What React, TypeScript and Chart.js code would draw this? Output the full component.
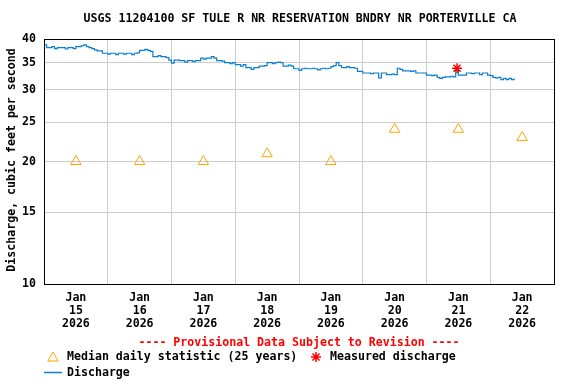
import React, { useEffect, useRef } from 'react';
import { Chart, registerables } from 'chart.js';

Chart.register(...registerables);

const chartTitle = 'USGS 11204100 SF TULE R NR RESERVATION BNDRY NR PORTERVILLE CA';
const yAxisTitle = 'Discharge, cubic feet per second';
const provisionalText = '---- Provisional Data Subject to Revision ----';
const medianLegend = 'Median daily statistic (25 years)';
const measuredLegend = 'Measured discharge';
const dischargeLegend = 'Discharge';

const monthLabel = 'Jan';
const yearLabel = '2026';
const dayLabels = ['15', '16', '17', '18', '19', '20', '21', '22'];
const yTicks = [10, 15, 20, 25, 30, 35, 40];

// median daily statistic, one per day (plotted at noon)
const medianValues = [20, 20, 20, 20.9, 20, 24, 24, 22.9];

// measured discharge (hours after Jan 15 00:00)
const measuredHours = [155.5];
const measuredValues = [33.9];

// hourly discharge starting Jan 15 00:00
const dischargeStartHour = 0;
const dischargeValues = [
  38.7, 38.1, 38.1, 38.3, 37.9, 38.1, 38.1, 38.1, 37.8, 38.1,
  38.1, 37.9, 38.3, 38.3, 38.5, 38.7, 38.3, 38.1, 37.9, 37.6,
  37.4, 37.4, 36.9, 36.9, 36.7, 36.9, 36.9, 36.6, 36.9, 36.9,
  36.7, 36.9, 36.9, 36.6, 36.9, 37.0, 37.5, 37.5, 37.7, 37.5,
  37.3, 36.2, 36.2, 36.4, 36.2, 36.2, 36.0, 35.5, 34.9, 35.5,
  35.5, 35.4, 35.4, 35.1, 35.4, 35.4, 35.2, 35.4, 35.4, 35.9,
  35.7, 35.9, 35.9, 36.2, 35.9, 35.4, 35.4, 35.3, 35.0, 35.0,
  34.8, 35.0, 34.6, 34.6, 34.3, 34.6, 34.0, 34.0, 33.7, 34.0,
  34.0, 34.3, 34.3, 34.4, 35.0, 35.0, 34.8, 35.0, 35.1, 35.0,
  34.3, 34.3, 34.5, 34.3, 33.8, 33.8, 33.5, 33.8, 33.9, 33.8,
  33.8, 33.9, 33.8, 33.6, 33.8, 33.9, 33.8, 33.9, 34.2, 34.4,
  35.0, 34.4, 34.0, 34.0, 34.2, 34.0, 34.0, 33.9, 33.3, 33.3,
  33.0, 33.0, 33.0, 32.9, 33.0, 33.0, 32.1, 33.0, 33.0, 32.7,
  32.7, 32.8, 32.7, 33.9, 33.7, 33.4, 33.4, 33.4, 33.3, 33.4,
  33.0, 33.0, 33.0, 33.0, 32.6, 32.6, 32.5, 32.6, 32.2, 32.0,
  32.2, 32.3, 32.3, 32.4, 32.3, 33.5, 32.6, 32.6, 32.6, 33.0,
  33.0, 32.9, 33.0, 33.0, 32.7, 33.0, 33.0, 32.6, 32.5, 32.2,
  32.1, 32.2, 31.8, 32.0, 31.8, 32.0, 31.8, 32.0,
];

const FONT = "'DejaVu Sans Mono', 'Liberation Mono', monospace";
const FONT_SIZE = 11.6;
const LINE_COLOR = '#0a7fcf';
const MEDIAN_COLOR = '#ffa500';
const MEASURED_COLOR = '#ff0000';
const GRID_COLOR = '#cccccc';

function drawTriangle(ctx: CanvasRenderingContext2D, x: number, y: number, r: number) {
  ctx.beginPath();
  for (let i = 0; i < 3; i++) {
    const a = (i * 2 * Math.PI) / 3;
    const px = x + Math.sin(a) * r;
    const py = y - Math.cos(a) * r;
    if (i === 0) ctx.moveTo(px, py);
    else ctx.lineTo(px, py);
  }
  ctx.closePath();
  ctx.stroke();
}

function drawStar(ctx: CanvasRenderingContext2D, x: number, y: number, r: number) {
  ctx.beginPath();
  for (let i = 0; i < 4; i++) {
    const a = (i * Math.PI) / 4;
    ctx.moveTo(x + Math.cos(a) * r, y + Math.sin(a) * r);
    ctx.lineTo(x - Math.cos(a) * r, y - Math.sin(a) * r);
  }
  ctx.stroke();
}

const decorPlugin = {
  id: 'decor',
  afterDraw(chart: any) {
    const ctx: CanvasRenderingContext2D = chart.ctx;
    const a = chart.chartArea;
    ctx.save();
    // frame
    ctx.strokeStyle = '#000';
    ctx.lineWidth = 1;
    ctx.strokeRect(Math.round(a.left) + 0.5, Math.round(a.top) + 0.5, Math.round(a.right - a.left), Math.round(a.bottom - a.top));

    ctx.font = `bold ${FONT_SIZE}px ${FONT}`;
    ctx.fillStyle = '#000';
    ctx.textBaseline = 'middle';
    ctx.textAlign = 'center';
    ctx.fillText(chartTitle, 300, 19);

    // y title
    ctx.save();
    ctx.translate(12, 160);
    ctx.rotate(-Math.PI / 2);
    ctx.fillText(yAxisTitle, 0, 0);
    ctx.restore();

    // provisional
    ctx.fillStyle = MEASURED_COLOR;
    ctx.fillText(provisionalText, 299, 343);

    // legend
    ctx.textAlign = 'left';
    ctx.fillStyle = '#000';
    ctx.strokeStyle = MEDIAN_COLOR;
    ctx.lineWidth = 1;
    drawTriangle(ctx, 53, 358, 6);
    ctx.fillText(medianLegend, 67, 357);

    ctx.strokeStyle = MEASURED_COLOR;
    ctx.lineWidth = 1.5;
    drawStar(ctx, 316, 357, 5);
    ctx.fillText(measuredLegend, 330, 357);

    ctx.strokeStyle = LINE_COLOR;
    ctx.lineWidth = 1.5;
    ctx.beginPath();
    ctx.moveTo(44, 372.5);
    ctx.lineTo(62, 372.5);
    ctx.stroke();
    ctx.fillText(dischargeLegend, 67, 373);
    ctx.restore();
  },
};

export default function App() {
  const canvasRef = useRef<HTMLCanvasElement | null>(null);

  useEffect(() => {
    document.body.style.margin = '0';
    const canvas = canvasRef.current;
    if (!canvas) return;

    const dischargePoints = dischargeValues.map((v, i) => ({ x: dischargeStartHour + i, y: v }));
    const medianPoints = medianValues.map((v, i) => ({ x: 12 + 24 * i, y: v }));
    const measuredPoints = measuredValues.map((v, i) => ({ x: measuredHours[i], y: v }));
    const xMax = 24 * dayLabels.length;
    const xTickValues: number[] = [];
    for (let h = 0; h <= xMax; h += 12) xTickValues.push(h);

    const chart = new Chart(canvas, {
      type: 'scatter',
      data: {
        datasets: [
          {
            label: dischargeLegend,
            type: 'line',
            data: dischargePoints,
            borderColor: LINE_COLOR,
            borderWidth: 1.2,
            pointRadius: 0,
            stepped: true,
            fill: false,
            order: 3,
          } as any,
          {
            label: medianLegend,
            data: medianPoints,
            pointStyle: 'triangle',
            pointRadius: 6,
            borderColor: MEDIAN_COLOR,
            backgroundColor: 'rgba(255,255,255,0)',
            borderWidth: 1,
            order: 2,
          },
          {
            label: measuredLegend,
            data: measuredPoints,
            pointStyle: 'star',
            pointRadius: 5,
            borderColor: MEASURED_COLOR,
            backgroundColor: MEASURED_COLOR,
            borderWidth: 1.5,
            order: 1,
          },
        ],
      },
      options: {
        animation: false,
        responsive: false,
        devicePixelRatio: 1,
        layout: { padding: { left: 0, right: 22, top: 39, bottom: 0 } },
        plugins: {
          legend: { display: false },
          title: { display: false },
          tooltip: { enabled: false },
        },
        scales: {
          x: {
            type: 'linear',
            min: 0,
            max: xMax,
            afterFit: (s: any) => { s.height = 100; },
            afterBuildTicks: (s: any) => { s.ticks = xTickValues.map((v) => ({ value: v })); },
            grid: {
              color: (c: any) => (c.tick && c.tick.value % 24 === 0 ? GRID_COLOR : 'rgba(0,0,0,0)'),
              lineWidth: 1,
              drawTicks: false,
            },
            border: { display: true, color: '#000', width: 1 },
            ticks: {
              autoSkip: false,
              maxRotation: 0,
              minRotation: 0,
              padding: 7,
              color: '#000',
              font: { family: FONT, size: FONT_SIZE, weight: 'bold', lineHeight: '13px' } as any,
              callback: (v: any) => {
                const h = Number(v);
                if (h % 24 !== 12) return '';
                const d = Math.floor(h / 24);
                return [monthLabel, dayLabels[d], yearLabel];
              },
            },
          },
          y: {
            type: 'logarithmic',
            min: 10,
            max: 40,
            afterFit: (s: any) => { s.width = 44; },
            afterBuildTicks: (s: any) => { s.ticks = yTicks.map((v) => ({ value: v })); },
            grid: { color: GRID_COLOR, lineWidth: 1, drawTicks: false },
            border: { display: true, color: '#000', width: 1 },
            ticks: {
              padding: 8,
              color: '#000',
              font: { family: FONT, size: FONT_SIZE, weight: 'bold' } as any,
              callback: (v: any) => String(v),
            },
          },
        },
      },
      plugins: [decorPlugin],
    });

    return () => chart.destroy();
  }, []);

  return <canvas ref={canvasRef} width={576} height={384} style={{ display: 'block' }} />;
}
